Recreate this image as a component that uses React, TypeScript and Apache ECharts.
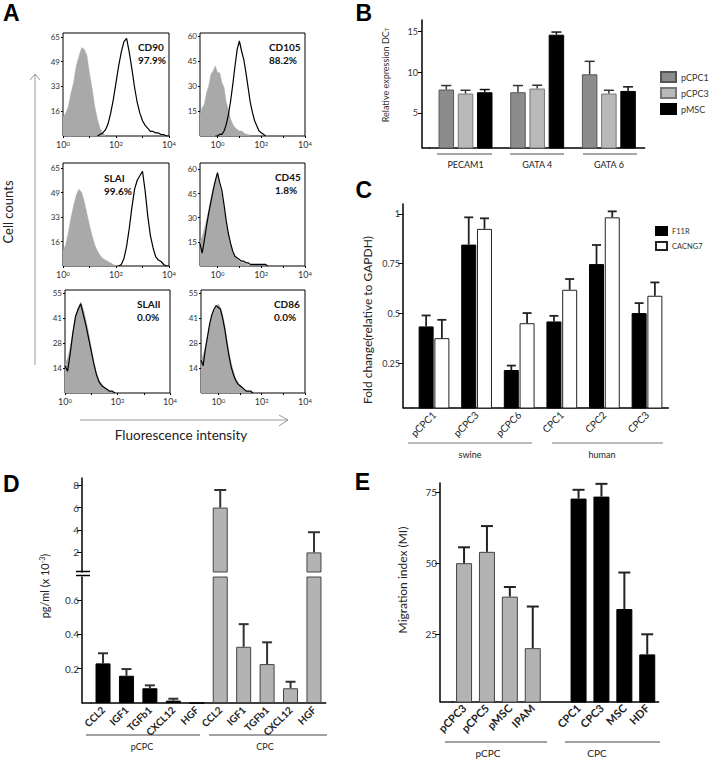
import { useEffect, useRef } from 'react';
import * as echarts from 'echarts';

const FONT = 'Lato, "Noto Sans", sans-serif';

// ---------- Panel A: flow cytometry histograms (counts per 0.1-decade bin, starting at *From exponent) ----------
const cd90CtrlFrom = 0;
const cd90Ctrl = [12, 15, 19, 28, 35, 46, 52, 58, 57, 53, 41, 31, 19, 11, 5, 2, 0];
const cd90MarkFrom = 1.3;
const cd90Mark = [0, 1, 2, 4, 8, 15, 24, 35, 46, 55, 62, 64, 55, 44, 32, 22, 15, 10, 7, 5, 3, 3, 2, 2, 1, 1, 0, 0];

const cd105CtrlFrom = -0.8;
const cd105Ctrl = [13, 17, 19, 26, 30, 37, 39, 42, 38, 38, 32, 29, 20, 16, 10, 7, 5, 4, 3, 3, 2, 1, 1, 0];
const cd105MarkFrom = -0.1;
const cd105Mark = [0, 0, 1, 1, 3, 7, 13, 21, 31, 42, 52, 57, 51, 46, 38, 29, 20, 14, 9, 6, 3, 2, 1, 0];

const slaiCtrlFrom = 0;
const slaiCtrl = [10, 14, 22, 32, 40, 47, 51, 49, 43, 35, 27, 20, 14, 10, 7, 5, 4, 3, 2, 1, 0];
const slaiMarkFrom = 2.1;
const slaiMark = [0, 1, 5, 13, 25, 39, 51, 57, 60, 63, 50, 33, 20, 12, 6, 4, 3, 1, 0, 0];

const cd45CtrlFrom = -0.8;
const cd45Ctrl = [15, 18, 23, 29, 35, 42, 48, 53, 57, 50, 44, 36, 26, 19, 13, 8, 6, 4, 3, 2, 2, 1, 1, 0];
const cd45MarkFrom = -0.8;
const cd45Mark = [14, 8, 16, 25, 33, 40, 47, 53, 58, 52, 47, 38, 28, 20, 14, 9, 6, 5, 4, 3, 3, 2, 2, 1, 1, 1, 1, 1, 1, 1, 1, 0];

const slaiiCtrlFrom = 0;
const slaiiCtrl = [16, 19, 25, 34, 42, 47, 50, 46, 40, 33, 25, 17, 11, 7, 5, 3, 2, 1, 1, 0];
const slaiiMarkFrom = 0;
const slaiiMark = [15, 12, 22, 33, 42, 46, 49, 43, 37, 30, 23, 16, 10, 6, 4, 3, 2, 1, 1, 0];

const cd86CtrlFrom = -0.8;
const cd86Ctrl = [17, 21, 25, 31, 37, 42, 45, 47, 49, 47, 43, 37, 29, 22, 16, 12, 8, 6, 4, 3, 2, 1, 1, 0];
const cd86MarkFrom = -0.8;
const cd86Mark = [18, 15, 24, 31, 38, 43, 46, 48, 47, 46, 41, 35, 27, 20, 14, 10, 7, 5, 4, 3, 2, 1, 1, 1, 0];

const histXLabels = [0, 2, 4];
const ticks65 = [16.25, 32.5, 48.75, 65];
const ticks60 = [15, 30, 45, 60];
const ticks55 = [13.75, 27.5, 41.25, 55];

// ---------- Panel B ----------
const bGenes = ['PECAM1', 'GATA 4', 'GATA 6'];
const bPcpc1 = [7.87, 7.54, 9.74];
const bPcpc1Err = [8.36, 8.36, 11.33];
const bPcpc3 = [7.38, 7.99, 7.38];
const bPcpc3Err = [7.78, 8.4, 7.78];
const bPmsc = [7.54, 14.6, 7.7];
const bPmscErr = [7.87, 14.92, 8.2];
const bTicks = [5, 10, 15];

// ---------- Panel C ----------
const cCells = ['pCPC1', 'pCPC3', 'pCPC6', 'CPC1', 'CPC2', 'CPC3'];
const cF11r = [0.435, 0.846, 0.216, 0.46, 0.748, 0.502];
const cF11rErr = [0.49, 0.983, 0.238, 0.488, 0.844, 0.552];
const cCacng7 = [0.376, 0.925, 0.451, 0.619, 0.983, 0.589];
const cCacng7Err = [0.468, 0.978, 0.502, 0.673, 1.013, 0.656];
const cTicks = [0.25, 0.5, 0.75, 1];

// ---------- Panel D ----------
const dFactors = ['CCL2', 'IGF1', 'TGFb1', 'CXCL12', 'HGF'];
const dPcpc = [0.231, 0.159, 0.086, 0.014, 0];
const dPcpcErr = [0.29, 0.198, 0.103, 0.025, null];
const dCpc = [6.0, 0.328, 0.227, 0.086, 2.0];
const dCpcErr = [7.57, 0.46, 0.354, 0.124, 3.8];
const dUpperTicks = [2, 4, 6, 8];
const dLowerTicks = [0.2, 0.4, 0.6];

// ---------- Panel E ----------
const ePcpcCells = ['pCPC3', 'pCPC5', 'pMSC', 'IPAM'];
const ePcpc = [50, 54, 38.2, 20];
const ePcpcErr = [55.6, 63.1, 41.6, 34.7];
const eCpcCells = ['CPC1', 'CPC3', 'MSC', 'HDF'];
const eCpc = [72.8, 73.5, 33.8, 17.8];
const eCpcErr = [75.9, 78, 46.7, 24.9];
const eTicks = [25, 50, 75];

function pts(from: number, counts: number[]) {
  return counts.map((c, i) => [Math.round((from + i * 0.1) * 10) / 10, c]);
}

function errSeries(axis: number, vals: any[], errs: any[], offset: number, cap: number, color: string, width: number) {
  const data: any[] = [];
  vals.forEach((v, i) => {
    const e = errs[i];
    if (e != null && v != null && v !== '-') data.push([i, v, e]);
  });
  return {
    type: 'custom',
    xAxisIndex: axis,
    yAxisIndex: axis,
    silent: true,
    z: 5,
    encode: { x: 0, y: [1, 2] },
    data,
    renderItem: (_p: any, api: any) => {
      const a = api.coord([api.value(0), api.value(1)]);
      const b = api.coord([api.value(0), api.value(2)]);
      const x = a[0] + offset;
      return {
        type: 'group',
        children: [
          { type: 'line', shape: { x1: x, y1: a[1], x2: x, y2: b[1] }, style: { stroke: color, lineWidth: width } },
          { type: 'line', shape: { x1: x - cap, y1: b[1], x2: x + cap, y2: b[1] }, style: { stroke: color, lineWidth: width } },
        ],
      };
    },
  };
}

function buildOption() {
  const histPanels = [
    { marker: 'CD90', pct: '97.9%', ctrl: cd90Ctrl, ctrlFrom: cd90CtrlFrom, mark: cd90Mark, markFrom: cd90MarkFrom, xMin: 0, yMax: 67.6, yTicks: ticks65, box: [63, 33, 106, 103], txt: [138, 40] },
    { marker: 'CD105', pct: '88.2%', ctrl: cd105Ctrl, ctrlFrom: cd105CtrlFrom, mark: cd105Mark, markFrom: cd105MarkFrom, xMin: -0.8, yMax: 61.8, yTicks: ticks60, box: [200, 33, 105, 103], txt: [269, 40] },
    { marker: 'SLAI', pct: '99.6%', ctrl: slaiCtrl, ctrlFrom: slaiCtrlFrom, mark: slaiMark, markFrom: slaiMarkFrom, xMin: 0, yMax: 68.5, yTicks: ticks65, box: [63, 163, 106, 103], txt: [104, 171] },
    { marker: 'CD45', pct: '1.8%', ctrl: cd45Ctrl, ctrlFrom: cd45CtrlFrom, mark: cd45Mark, markFrom: cd45MarkFrom, xMin: -0.8, yMax: 64, yTicks: ticks60, box: [200, 163, 105, 103], txt: [275, 170] },
    { marker: 'SLAII', pct: '0.0%', ctrl: slaiiCtrl, ctrlFrom: slaiiCtrlFrom, mark: slaiiMark, markFrom: slaiiMarkFrom, xMin: 0, yMax: 56.6, yTicks: ticks55, box: [65, 290, 105, 103], txt: [137, 297] },
    { marker: 'CD86', pct: '0.0%', ctrl: cd86Ctrl, ctrlFrom: cd86CtrlFrom, mark: cd86Mark, markFrom: cd86MarkFrom, xMin: -0.8, yMax: 56.6, yTicks: ticks55, box: [201, 290, 104, 103], txt: [274, 297] },
  ];

  const grid: any[] = [];
  const xAxis: any[] = [];
  const yAxis: any[] = [];
  const series: any[] = [];
  const graphic: any[] = [];

  histPanels.forEach((h, k) => {
    grid.push({ left: h.box[0], top: h.box[1], width: h.box[2], height: h.box[3], show: true, borderColor: '#000', borderWidth: 1, backgroundColor: 'transparent' });
    xAxis.push({
      gridIndex: k, type: 'value', min: h.xMin, max: 4,
      axisLine: { show: false, onZero: false }, splitLine: { show: false },
      axisTick: { show: true, customValues: [0, 1, 2, 3, 4], length: 2, lineStyle: { color: '#000' } },
      axisLabel: {
        customValues: histXLabels, margin: 4,
        formatter: (v: number) => `{b|10}{s|${Math.round(v)}}`,
        rich: { b: { fontSize: 9, color: '#333', fontFamily: FONT }, s: { fontSize: 6, color: '#333', verticalAlign: 'top', fontFamily: FONT } },
      },
    });
    yAxis.push({
      gridIndex: k, type: 'value', min: 0, max: h.yMax,
      axisLine: { show: false, onZero: false }, splitLine: { show: false },
      axisTick: { show: true, customValues: h.yTicks, length: 2, lineStyle: { color: '#000' } },
      axisLabel: { customValues: h.yTicks, formatter: (v: number) => String(Math.round(v)), fontSize: 8, color: '#333', margin: 3, fontFamily: FONT },
    });
    series.push({
      type: 'line', name: h.marker + ' isotype', xAxisIndex: k, yAxisIndex: k, data: pts(h.ctrlFrom, h.ctrl),
      symbol: 'none', lineStyle: { width: 0.5, color: '#a9a9a9' }, areaStyle: { color: '#a9a9a9', opacity: 1 }, z: 2,
    });
    series.push({
      type: 'line', name: h.marker, xAxisIndex: k, yAxisIndex: k, data: pts(h.markFrom, h.mark),
      symbol: 'none', lineStyle: { width: 1.2, color: '#000' }, z: 3,
    });
    graphic.push({
      type: 'text', x: h.txt[0], y: h.txt[1],
      style: { text: h.marker + '\n' + h.pct, font: `bold 10px ${FONT}`, fill: '#111', lineHeight: 13, textAlign: 'left', textVerticalAlign: 'top' },
    });
  });

  // ---- Panel B (index 6)
  grid.push({ left: 429.7, top: 20, width: 215, height: 128 });
  xAxis.push({
    gridIndex: 6, type: 'category', data: bGenes,
    axisLine: { onZero: false, lineStyle: { color: '#000', width: 1.5 } }, axisTick: { show: false },
    axisLabel: { fontSize: 9, color: '#222', margin: 12, fontFamily: FONT },
  });
  yAxis.push({
    gridIndex: 6, type: 'value', min: 0.7, max: 16.4, offset: 7.7,
    axisLine: { show: true, onZero: false, lineStyle: { color: '#000', width: 1.5 } }, splitLine: { show: false },
    axisTick: { show: true, customValues: bTicks, length: 4, lineStyle: { color: '#000' } },
    axisLabel: { customValues: bTicks, fontSize: 9, color: '#333', margin: 4, fontFamily: FONT },
  });
  const bw = 15.5, bStep = 15.5 * 1.24;
  series.push({ type: 'bar', name: 'pCPC1', xAxisIndex: 6, yAxisIndex: 6, data: bPcpc1, barWidth: bw, barGap: '24%', clip: true, itemStyle: { color: '#8c8c8c', borderColor: '#555', borderWidth: 1 } });
  series.push({ type: 'bar', name: 'pCPC3', xAxisIndex: 6, yAxisIndex: 6, data: bPcpc3, barWidth: bw, barGap: '24%', clip: true, itemStyle: { color: '#b9b9b9', borderColor: '#777', borderWidth: 1 } });
  series.push({ type: 'bar', name: 'pMSC', xAxisIndex: 6, yAxisIndex: 6, data: bPmsc, barWidth: bw, barGap: '24%', clip: true, itemStyle: { color: '#000', borderColor: '#000', borderWidth: 1 } });
  series.push(errSeries(6, bPcpc1, bPcpc1Err, -bStep, 5, '#333', 1.5));
  series.push(errSeries(6, bPcpc3, bPcpc3Err, 0, 5, '#333', 1.5));
  series.push(errSeries(6, bPmsc, bPmscErr, bStep, 5, '#111', 1.5));

  // ---- Panel C (index 7)
  grid.push({ left: 412.7, top: 204, width: 255.6, height: 204 });
  xAxis.push({
    gridIndex: 7, type: 'category', data: cCells,
    axisLine: { onZero: false, lineStyle: { color: '#000', width: 1.5 } }, axisTick: { show: false },
    axisLabel: { rotate: 45, fontSize: 10, color: '#222', margin: 5, fontFamily: FONT },
  });
  yAxis.push({
    gridIndex: 7, type: 'value', min: 0.025, max: 1.05, offset: 9.7,
    axisLine: { show: true, onZero: false, lineStyle: { color: '#000', width: 1.5 } }, splitLine: { show: false },
    axisTick: { show: true, customValues: cTicks, length: 5, lineStyle: { color: '#000' } },
    axisLabel: { customValues: cTicks, formatter: (v: number) => String(v), fontSize: 9, color: '#333', margin: 3, fontFamily: FONT },
  });
  series.push({ type: 'bar', name: 'F11R', xAxisIndex: 7, yAxisIndex: 7, data: cF11r, barWidth: 15, barGap: '5%', clip: true, itemStyle: { color: '#000', borderColor: '#000', borderWidth: 1 } });
  series.push({ type: 'bar', name: 'CACNG7', xAxisIndex: 7, yAxisIndex: 7, data: cCacng7, barWidth: 15, barGap: '5%', clip: true, itemStyle: { color: '#fff', borderColor: '#222', borderWidth: 1 } });
  series.push(errSeries(7, cF11r, cF11rErr, -7.875, 4.5, '#222', 1.8));
  series.push(errSeries(7, cCacng7, cCacng7Err, 7.875, 4.5, '#222', 1.8));

  // ---- Panel D (upper index 8, lower index 9)
  const dCats = [...dFactors.map((f) => 'pCPC ' + f), ...dFactors.map((f) => 'CPC ' + f)];
  const dVals = [...dPcpc, ...dCpc];
  const dErrs = [...dPcpcErr, ...dCpcErr];
  const lowerMax = 0.735;
  const dColor = (i: number) => (i < dPcpc.length ? '#000' : '#b3b3b3');
  const dBorder = (i: number) => (i < dPcpc.length ? '#000' : '#444');
  grid.push({ left: 91.3, top: 478, width: 234.4, height: 94 });
  grid.push({ left: 91.3, top: 577, width: 234.4, height: 126 });
  xAxis.push({ gridIndex: 8, type: 'category', data: dCats, show: false });
  xAxis.push({
    gridIndex: 9, type: 'category', data: dCats,
    axisLine: { onZero: false, lineStyle: { color: '#000', width: 1.5 } }, axisTick: { show: false },
    axisLabel: { rotate: 45, fontSize: 10, fontWeight: 'bold', color: '#222', margin: 5, fontFamily: FONT, interval: 0, formatter: (v: string) => v.split(' ')[1] },
  });
  yAxis.push({
    gridIndex: 8, type: 'value', min: 0.25, max: 8.64, offset: 9.3,
    axisLine: { show: true, onZero: false, lineStyle: { color: '#000', width: 1.5 } }, splitLine: { show: false },
    axisTick: { show: true, customValues: dUpperTicks, length: 5, lineStyle: { color: '#000' } },
    axisLabel: { customValues: dUpperTicks, fontSize: 10, color: '#333', margin: 3, fontFamily: FONT },
  });
  yAxis.push({
    gridIndex: 9, type: 'value', min: 0, max: lowerMax, offset: 9.3,
    axisLine: { show: true, onZero: false, lineStyle: { color: '#000', width: 1.5 } }, splitLine: { show: false },
    axisTick: { show: true, customValues: dLowerTicks, length: 5, lineStyle: { color: '#000' } },
    axisLabel: { customValues: dLowerTicks, formatter: (v: number) => String(v), fontSize: 10, color: '#333', margin: 3, fontFamily: FONT },
  });
  series.push({
    type: 'bar', name: 'secretion (high range)', xAxisIndex: 8, yAxisIndex: 8, barWidth: 15, clip: true,
    data: dVals.map((v, i) => (v > lowerMax ? { value: v, itemStyle: { color: dColor(i), borderColor: dBorder(i), borderWidth: 1 } } : '-')),
  });
  series.push({
    type: 'bar', name: 'secretion (low range)', xAxisIndex: 9, yAxisIndex: 9, barWidth: 15, clip: true,
    data: dVals.map((v, i) => ({ value: v, itemStyle: { color: dColor(i), borderColor: dBorder(i), borderWidth: 1 } })),
  });
  series.push(errSeries(8, dVals.map((v) => (v > lowerMax ? v : null)), dErrs, 0, 6, '#333', 2));
  series.push(errSeries(9, dVals.map((v) => (v <= lowerMax ? v : null)), dErrs, 0, 5, '#333', 2));

  // ---- Panel E (index 10)
  const eCats = [...ePcpcCells, '', ...eCpcCells];
  const eVals: any[] = [...ePcpc, '-', ...eCpc];
  const eErrs: any[] = [...ePcpcErr, null, ...eCpcErr];
  grid.push({ left: 452.6, top: 483, width: 206.1, height: 219 });
  xAxis.push({
    gridIndex: 10, type: 'category', data: eCats,
    axisLine: { onZero: false, lineStyle: { color: '#000', width: 1.5 } }, axisTick: { show: false },
    axisLabel: { rotate: 45, fontSize: 11, fontWeight: 'bold', color: '#222', margin: 4, fontFamily: FONT, interval: 0 },
  });
  yAxis.push({
    gridIndex: 10, type: 'value', min: 1, max: 78.3, offset: 12.6,
    axisLine: { show: true, onZero: false, lineStyle: { color: '#000', width: 1.5 } }, splitLine: { show: false },
    axisTick: { show: true, customValues: eTicks, length: 5, lineStyle: { color: '#000' } },
    axisLabel: { customValues: eTicks, fontSize: 10, color: '#333', margin: 3, fontFamily: FONT },
  });
  series.push({
    type: 'bar', name: 'migration', xAxisIndex: 10, yAxisIndex: 10, barWidth: 16, clip: true,
    data: eVals.map((v, i) => (v === '-' ? '-' : { value: v, itemStyle: i < ePcpc.length ? { color: '#b3b3b3', borderColor: '#444', borderWidth: 1 } : { color: '#000', borderColor: '#000', borderWidth: 1 } })),
  });
  series.push(errSeries(10, eVals, eErrs, 0, 6, '#222', 2));

  // ---- Decorations (text, arrows, group lines)
  const letter = (t: string, x: number, y: number, align: string) => ({
    type: 'text', x, y, style: { text: t, font: 'bold 23px "Liberation Sans", Arial, sans-serif', fill: '#000', textAlign: align, textVerticalAlign: 'middle' },
  });
  const seg = (x1: number, y1: number, x2: number, y2: number, color: string, w: number) => ({
    type: 'line', shape: { x1, y1, x2, y2 }, style: { stroke: color, lineWidth: w },
  });
  const label = (t: string, x: number, y: number, size: number, rot = 0) => ({
    type: 'text', x, y, rotation: rot, style: { text: t, font: `${size}px ${FONT}`, fill: '#222', textAlign: 'center', textVerticalAlign: 'middle' },
  });
  graphic.push(
    letter('A', 3, 13, 'left'),
    letter('B', 372, 13, 'right'),
    letter('C', 372, 190, 'right'),
    letter('D', 3, 483.5, 'left'),
    letter('E', 370, 482, 'right'),
    // panel A axes decorations
    label('Cell counts', 8, 212, 13, Math.PI / 2),
    seg(35, 74, 35, 365, '#9a9a9a', 1),
    { type: 'polyline', shape: { points: [[30, 80], [35, 74], [40, 80]] }, style: { stroke: '#9a9a9a', lineWidth: 1, fill: 'none' } },
    seg(80, 420, 288, 420, '#9a9a9a', 1),
    { type: 'polyline', shape: { points: [[279, 415], [288, 420], [279, 426]] }, style: { stroke: '#9a9a9a', lineWidth: 1, fill: 'none' } },
    label('Fluorescence intensity', 181, 435, 13.5),
    // panel B
    {
      type: 'text', x: 385, y: 75, rotation: Math.PI / 2,
      style: {
        text: '{n|Relative expression DC}{s|T}', textAlign: 'center', textVerticalAlign: 'middle',
        rich: { n: { fontSize: 9, fontFamily: FONT, fill: '#333', color: '#333' }, s: { fontSize: 6, fontFamily: FONT, fill: '#333', color: '#333', verticalAlign: 'bottom' } },
      },
    },
    seg(422, 148, 430, 148, '#000', 1.5),
    seg(437, 154, 492, 154, '#888', 1.5),
    seg(510, 154, 564, 154, '#888', 1.5),
    seg(583, 154, 637, 154, '#888', 1.5),
    // panel C
    label('Fold change(relative to GAPDH)', 367, 320, 12, Math.PI / 2),
    seg(403, 408, 413, 408, '#000', 1.5),
    seg(408, 443, 532, 443, '#777', 1),
    seg(552, 443, 663, 443, '#777', 1),
    label('swine', 470, 454, 9),
    label('human', 602, 454, 9),
    // panel D
    {
      type: 'text', x: 44, y: 586, rotation: Math.PI / 2,
      style: {
        text: '{n|pg/ml (x 10}{s|-3}{n|)}', textAlign: 'center', textVerticalAlign: 'middle',
        rich: { n: { fontSize: 11, fontFamily: FONT, fill: '#222', color: '#222' }, s: { fontSize: 7, fontFamily: FONT, fill: '#222', color: '#222', verticalAlign: 'top' } },
      },
    },
    seg(76, 571.5, 90, 571.5, '#000', 1.5),
    seg(76, 575.5, 90, 575.5, '#000', 1.5),
    seg(82, 703, 91.5, 703, '#000', 1.5),
    seg(86, 735, 200, 735, '#444', 1),
    seg(209, 735, 327, 735, '#444', 1),
    label('pCPC', 142, 746, 9),
    label('CPC', 265, 746, 9),
    // panel E
    label('Migration index (MI)', 402, 580, 12, Math.PI / 2),
    seg(440, 702, 453, 702, '#000', 1.5),
    seg(445, 742, 547, 742, '#444', 1),
    seg(565, 742, 660, 742, '#444', 1),
    label('pCPC', 488, 753, 10),
    label('CPC', 597, 753, 10),
  );

  return {
    animation: false,
    backgroundColor: '#fff',
    textStyle: { fontFamily: FONT },
    grid, xAxis, yAxis, series, graphic,
    legend: [
      {
        data: ['pCPC1', 'pCPC3', 'pMSC'], left: 660, top: 71, orient: 'vertical', icon: 'rect',
        itemWidth: 15, itemHeight: 10, itemGap: 4, padding: 0, selectedMode: false,
        textStyle: { fontSize: 9, color: '#333', fontFamily: FONT },
      },
      {
        data: ['F11R', 'CACNG7'], left: 655, top: 226, orient: 'vertical', icon: 'rect',
        itemWidth: 11, itemHeight: 8, itemGap: 5, padding: 0, selectedMode: false,
        textStyle: { fontSize: 7.5, color: '#333', fontFamily: FONT },
      },
    ],
  };
}

export default function App() {
  const ref = useRef<HTMLDivElement>(null);
  useEffect(() => {
    if (!ref.current) return;
    const chart = echarts.init(ref.current, null, { renderer: 'svg' });
    chart.setOption(buildOption() as any);
    return () => chart.dispose();
  }, []);
  return <div ref={ref} style={{ position: 'absolute', left: 0, top: 0, width: 709, height: 759 }} />;
}
